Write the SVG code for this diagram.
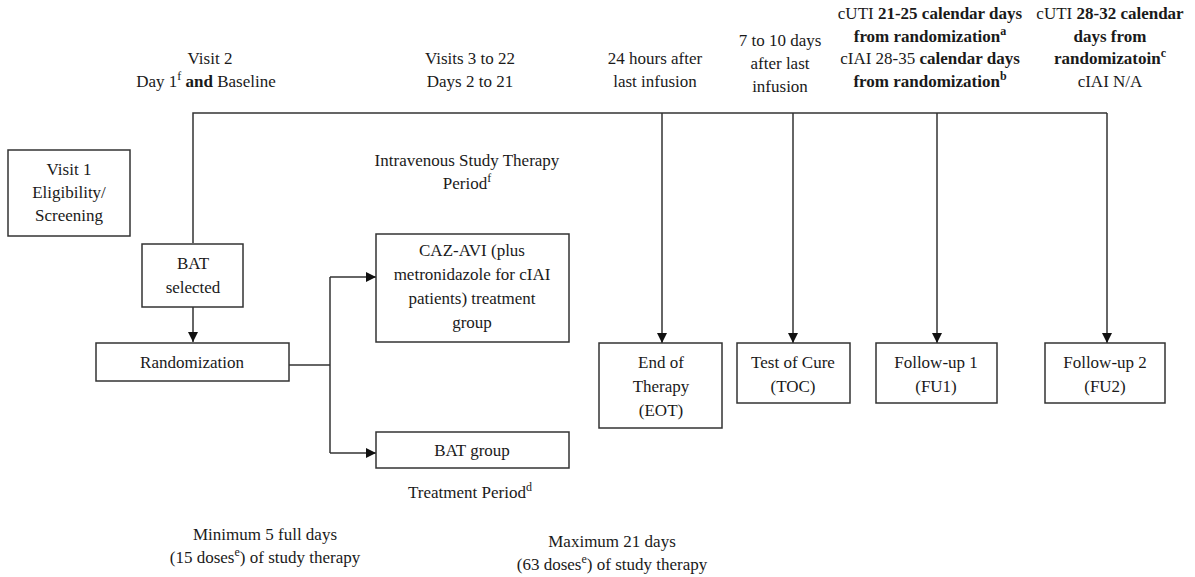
<svg xmlns="http://www.w3.org/2000/svg" width="1195" height="577" viewBox="0 0 1195 577">
<style>
text{font-family:"Liberation Serif","Times New Roman",serif;font-size:17px;fill:#1a1a1a;text-anchor:middle}
.b{font-weight:bold}
.box{fill:#fff;stroke:#333;stroke-width:1.5}
.ln{fill:none;stroke:#333;stroke-width:1.5}
.sup{font-size:12px}
</style>
<defs>
<marker id="ah" viewBox="0 0 10 10" refX="10" refY="5" markerWidth="10" markerHeight="10" markerUnits="userSpaceOnUse" orient="auto">
<path d="M0,0 L10,5 L0,10 z" fill="#111"/>
</marker>
</defs>

<g id="connectors">
<path class="ln" d="M193,243 V113 H1107"/>
<path class="ln" d="M193,307 V342" marker-end="url(#ah)"/>
<path class="ln" d="M289,365 H330"/>
<path class="ln" d="M330,277 V453"/>
<path class="ln" d="M330,277 H376" marker-end="url(#ah)"/>
<path class="ln" d="M330,453 H376" marker-end="url(#ah)"/>
<path class="ln" d="M662,113 V343" marker-end="url(#ah)"/>
<path class="ln" d="M793,113 V343" marker-end="url(#ah)"/>
<path class="ln" d="M937,113 V343" marker-end="url(#ah)"/>
<path class="ln" d="M1107,113 V343" marker-end="url(#ah)"/>
</g>

<g id="labels">
<text x="210" y="64">Visit 2</text>
<text x="206" y="87">Day 1<tspan class="sup" dy="-7">f</tspan><tspan dy="7" class="b"> and</tspan> Baseline</text>
<text x="470" y="64">Visits 3 to 22</text>
<text x="470" y="87">Days 2 to 21</text>
<text x="655" y="64">24 hours after</text>
<text x="655" y="87">last infusion</text>
<text x="780" y="46">7 to 10 days</text>
<text x="780" y="69">after last</text>
<text x="780" y="92">infusion</text>
<text x="930" y="19">cUTI  <tspan class="b">21-25 calendar  days</tspan></text>
<text x="930" y="42" class="b">from  randomization<tspan class="sup" dy="-7">a</tspan></text>
<text x="930" y="64">cIAI 28-35  <tspan class="b">calendar  days</tspan></text>
<text x="930" y="87" class="b">from  randomization<tspan class="sup" dy="-7">b</tspan></text>
<text x="1110" y="19">cUTI  <tspan class="b">28-32 calendar</tspan></text>
<text x="1110" y="42" class="b">days  from</text>
<text x="1110" y="64" class="b">randomizatoin<tspan class="sup" dy="-7">c</tspan></text>
<text x="1110" y="87">cIAI N/A</text>
<text x="467" y="166">Intravenous Study Therapy</text>
<text x="467" y="189">Period<tspan class="sup" dy="-7">f</tspan></text>
<text x="470" y="498">Treatment Period<tspan class="sup" dy="-7">d</tspan></text>
<text x="265" y="540">Minimum  5 full  days</text>
<text x="265" y="563">(15  doses<tspan class="sup" dy="-7">e</tspan><tspan dy="7">) of study therapy</tspan></text>
<text x="612" y="547">Maximum  21 days</text>
<text x="612" y="570">(63  doses<tspan class="sup" dy="-7">e</tspan><tspan dy="7">) of study therapy</tspan></text>
</g>

<g id="visit1">
<rect class="box" x="8" y="150" width="122" height="86"/>
<text x="69" y="175">Visit  1</text>
<text x="69" y="198">Eligibility/</text>
<text x="69" y="221">Screening</text>
</g>

<g id="bat-selected">
<rect class="box" x="142" y="244" width="101" height="63"/>
<text x="193" y="269">BAT</text>
<text x="193" y="293">selected</text>
</g>

<g id="randomization">
<rect class="box" x="96" y="343" width="193" height="38"/>
<text x="192" y="368">Randomization</text>
</g>

<g id="caz-avi">
<rect class="box" x="376" y="234" width="193" height="108"/>
<text x="472" y="256">CAZ-AVI  (plus</text>
<text x="472" y="280">metronidazole  for cIAI</text>
<text x="472" y="304">patients) treatment</text>
<text x="472" y="328">group</text>
</g>

<g id="bat-group">
<rect class="box" x="376" y="432" width="193" height="36"/>
<text x="472" y="456">BAT group</text>
</g>

<g id="eot">
<rect class="box" x="599" y="343" width="123" height="85"/>
<text x="661" y="368">End of</text>
<text x="661" y="392">Therapy</text>
<text x="661" y="416">(EOT)</text>
</g>

<g id="toc">
<rect class="box" x="737" y="343" width="113" height="60"/>
<text x="793" y="368">Test of Cure</text>
<text x="793" y="392">(TOC)</text>
</g>

<g id="fu1">
<rect class="box" x="876" y="343" width="121" height="60"/>
<text x="936" y="368">Follow-up  1</text>
<text x="936" y="392">(FU1)</text>
</g>

<g id="fu2">
<rect class="box" x="1045" y="343" width="120" height="60"/>
<text x="1105" y="368">Follow-up  2</text>
<text x="1105" y="392">(FU2)</text>
</g>
</svg>
